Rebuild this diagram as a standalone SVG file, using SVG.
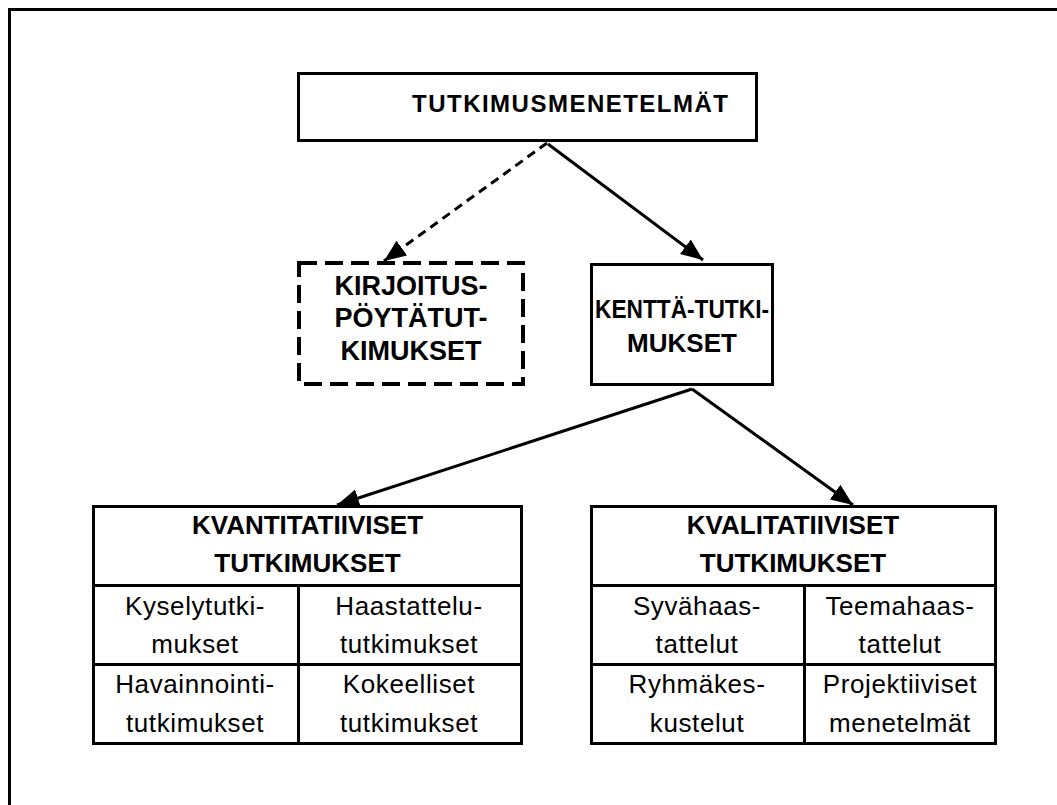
<svg xmlns="http://www.w3.org/2000/svg" width="1057" height="805" viewBox="0 0 1057 805">
<defs>
<style>
.box{fill:#fff;stroke:#000;stroke-width:3}
.dash{fill:#fff;stroke:#000;stroke-width:4;stroke-dasharray:18 8}
.ln{stroke:#000;stroke-width:3;fill:none}
.b{font-family:"Liberation Sans",Arial,sans-serif;font-weight:bold;fill:#000;text-anchor:middle}
.r{font-family:"Liberation Sans",Arial,sans-serif;font-size:26px;fill:#000;text-anchor:middle;letter-spacing:0.6px}
.con{stroke:#000;stroke-width:3;fill:none}
</style>
<marker id="ah" markerUnits="userSpaceOnUse" markerWidth="24" markerHeight="20" viewBox="0 0 24 20" refX="22" refY="10" orient="auto">
<path d="M0,1 L22,10 L0,19 z" fill="#000"/>
</marker>
</defs>
<rect x="0" y="0" width="1057" height="805" fill="#fff"/>
<rect x="9.5" y="9.5" width="1100" height="900" fill="none" stroke="#000" stroke-width="3"/>

<g id="connectors">
<line class="con" x1="547" y1="143" x2="384" y2="261" stroke-dasharray="9 6" marker-end="url(#ah)"/>
<line class="con" x1="548" y1="144" x2="703" y2="260" marker-end="url(#ah)"/>
<line class="con" x1="692" y1="389" x2="337" y2="505" marker-end="url(#ah)"/>
<line class="con" x1="692" y1="389" x2="853" y2="505" marker-end="url(#ah)"/>
</g>

<g id="node-tutkimusmenetelmat">
<rect class="box" x="298.5" y="73.5" width="458" height="67"/>
<text class="b" x="570" y="112" font-size="24" textLength="316" lengthAdjust="spacing">TUTKIMUSMENETELMÄT</text>
</g>

<g id="node-kirjoituspoyta">
<rect class="dash" x="299" y="263" width="224" height="121"/>
<text class="b" x="411" y="295" font-size="27">KIRJOITUS-</text>
<text class="b" x="411" y="327" font-size="27">PÖYTÄTUT-</text>
<text class="b" x="411" y="360" font-size="27">KIMUKSET</text>
</g>

<g id="node-kenttatutkimukset">
<rect class="box" x="591.5" y="264.5" width="181" height="120"/>
<text class="b" x="682" y="318" font-size="26" textLength="174" lengthAdjust="spacingAndGlyphs">KENTTÄ-TUTKI-</text>
<text class="b" x="682" y="352" font-size="26">MUKSET</text>
</g>

<g id="node-kvantitatiiviset">
<rect class="box" x="93.5" y="506.5" width="428" height="237"/>
<line class="ln" x1="92" y1="585.5" x2="523" y2="585.5"/>
<line class="ln" x1="92" y1="664.5" x2="523" y2="664.5"/>
<line class="ln" x1="298.5" y1="585" x2="298.5" y2="745"/>
<text class="b" x="307.5" y="534" font-size="26">KVANTITATIIVISET</text>
<text class="b" x="307.5" y="572" font-size="26">TUTKIMUKSET</text>
<text class="r" x="195" y="615">Kyselytutki-</text>
<text class="r" x="195" y="653">mukset</text>
<text class="r" x="409" y="615">Haastattelu-</text>
<text class="r" x="409" y="653">tutkimukset</text>
<text class="r" x="195" y="693">Havainnointi-</text>
<text class="r" x="195" y="732">tutkimukset</text>
<text class="r" x="409" y="693">Kokeelliset</text>
<text class="r" x="409" y="732">tutkimukset</text>
</g>

<g id="node-kvalitatiiviset">
<rect class="box" x="591.5" y="506.5" width="404" height="237"/>
<line class="ln" x1="590" y1="585.5" x2="997" y2="585.5"/>
<line class="ln" x1="590" y1="664.5" x2="997" y2="664.5"/>
<line class="ln" x1="804.5" y1="585" x2="804.5" y2="745"/>
<text class="b" x="793" y="534" font-size="26">KVALITATIIVISET</text>
<text class="b" x="793" y="572" font-size="26">TUTKIMUKSET</text>
<text class="r" x="697" y="615">Syvähaas-</text>
<text class="r" x="697" y="653">tattelut</text>
<text class="r" x="900" y="615">Teemahaas-</text>
<text class="r" x="900" y="653">tattelut</text>
<text class="r" x="697" y="693">Ryhmäkes-</text>
<text class="r" x="697" y="732">kustelut</text>
<text class="r" x="900" y="693">Projektiiviset</text>
<text class="r" x="900" y="732">menetelmät</text>
</g>
</svg>
